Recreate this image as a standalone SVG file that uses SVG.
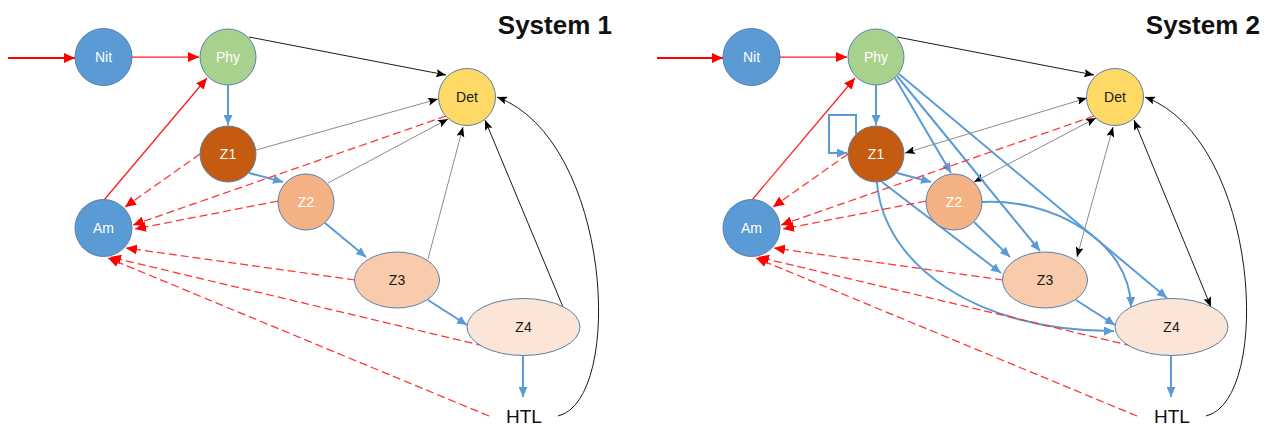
<svg xmlns="http://www.w3.org/2000/svg" width="1271" height="425" viewBox="0 0 1271 425">
  <style>
    .node { stroke: #5b7fa6; stroke-width: 1; }
    .lbl { font-family: "Liberation Sans", Arial, sans-serif; font-size: 14px; text-anchor: middle; }
    .lt { fill: #ffffff; }
    .dk { fill: #1a1a1a; }
    .title { font-family: "Liberation Sans", Arial, sans-serif; font-size: 26px; font-weight: bold; text-anchor: end; fill: #111111; }
    .htl { font-family: "Liberation Sans", Arial, sans-serif; font-size: 19px; text-anchor: middle; fill: #111111; }
    .red { fill: none; stroke: #ff1a1a; stroke-width: 1.25; marker-end: url(#ah-red); }
    .red-in { fill: none; stroke: #ff0000; stroke-width: 2; marker-end: url(#ah-red); }
    .red-dash { fill: none; stroke: #ff3333; stroke-width: 1.25; stroke-dasharray: 8 4; marker-end: url(#ah-red); }
    .blue { fill: none; stroke: #5b9bd5; stroke-width: 2; marker-end: url(#ah-blue); }
    .black { fill: none; stroke: #1a1a1a; stroke-width: 1; marker-end: url(#ah-black); }
    .gray { fill: none; stroke: #8c8c8c; stroke-width: 1; marker-end: url(#ah-black); }
    .both { marker-start: url(#ah-black-s); }
  </style>
  <defs>
    <marker id="ah-red" viewBox="0 0 11 10" refX="11" refY="5" markerWidth="11" markerHeight="10" markerUnits="userSpaceOnUse" orient="auto">
      <path d="M0,0 L11,5 L0,10 z" fill="#ff0000"/>
    </marker>
    <marker id="ah-blue" viewBox="0 0 10 9" refX="10" refY="4.5" markerWidth="10" markerHeight="9" markerUnits="userSpaceOnUse" orient="auto">
      <path d="M0,0 L10,4.5 L0,9 z" fill="#5b9bd5"/>
    </marker>
    <marker id="ah-black" viewBox="0 0 10 8" refX="10" refY="4" markerWidth="10" markerHeight="8" markerUnits="userSpaceOnUse" orient="auto">
      <path d="M0,0 L10,4 L0,8 L2,4 z" fill="#000000"/>
    </marker>
    <marker id="ah-black-s" viewBox="0 0 10 8" refX="10" refY="4" markerWidth="10" markerHeight="8" markerUnits="userSpaceOnUse" orient="auto-start-reverse">
      <path d="M0,0 L10,4 L0,8 L2,4 z" fill="#000000"/>
    </marker>
  </defs>
  <rect width="1271" height="425" fill="#ffffff"/>

  <!-- ===== System 1 ===== -->
  <g id="system1">
    <text class="title" x="612" y="34">System 1</text>
    <g id="s1-connectors">
      <path class="red-in" d="M8,58 H75"/>
      <path class="red" d="M132,57 L199,57"/>
      <path class="red" d="M104,200 L207,78"/>
      <path class="black" d="M249,37 L446,75"/>
      <path class="blue" d="M228,85 V125"/>
      <path class="gray" d="M256,150 L438,99"/>
      <path class="gray" d="M328,183 L448,119"/>
      <path class="gray" d="M428,259 L463,127"/>
      <path class="black" d="M563,307 L485,120"/>
      <path class="black" d="M558,416 C625,400 612,140 497,97"/>
      <path class="blue" d="M249,173 L283,182"/>
      <path class="blue" d="M325,223 L366,257"/>
      <path class="blue" d="M428,300 L467,325"/>
      <path class="blue" d="M523,356 V397"/>
      <path class="red-dash" d="M200,154 L125,207"/>
      <path class="red-dash" d="M446,116 L133,225"/>
      <path class="red-dash" d="M278,201 L135,229"/>
      <path class="red-dash" d="M355,280 L126,248"/>
      <path class="red-dash" d="M484,346 L110,257"/>
      <path class="red-dash" d="M489,416 L108,258"/>
    </g>
    <g id="s1-nit"><circle class="node" cx="103.5" cy="57" r="28.5" fill="#5b9bd5"/><text class="lbl lt" x="103.5" y="62">Nit</text></g>
    <g id="s1-phy"><circle class="node" cx="228" cy="57" r="28" fill="#a9d18e"/><text class="lbl lt" x="228" y="62">Phy</text></g>
    <g id="s1-det"><circle class="node" cx="467" cy="97" r="28.5" fill="#ffd966"/><text class="lbl dk" x="467" y="102">Det</text></g>
    <g id="s1-z1"><circle class="node" cx="228" cy="154" r="28" fill="#c55a11"/><text class="lbl lt" x="228" y="159">Z1</text></g>
    <g id="s1-z2"><circle class="node" cx="306" cy="202" r="28" fill="#f4b183"/><text class="lbl lt" x="306" y="207">Z2</text></g>
    <g id="s1-am"><circle class="node" cx="103.5" cy="228" r="28.5" fill="#5b9bd5"/><text class="lbl lt" x="103.5" y="233">Am</text></g>
    <g id="s1-z3"><ellipse class="node" cx="397" cy="280" rx="42.5" ry="28" fill="#f8cbad"/><text class="lbl dk" x="397" y="285">Z3</text></g>
    <g id="s1-z4"><ellipse class="node" cx="523.5" cy="327" rx="56.5" ry="28.5" fill="#fbe5d6"/><text class="lbl dk" x="523.5" y="332">Z4</text></g>
    <g id="s1-htl"><text class="htl" x="524" y="423">HTL</text></g>
  </g>

  <!-- ===== System 2 (same layout, shifted right) ===== -->
  <g id="system2" transform="translate(648,0)">
    <text class="title" x="612" y="34">System 2</text>
    <g id="s2-connectors">
      <path class="red-in" d="M9,58 H75"/>
      <path class="red" d="M132,57 L199,57"/>
      <path class="red" d="M104,200 L207,78"/>
      <path class="black" d="M249,37 L446,75"/>
      <path class="blue" d="M228,85 V125"/>
      <path class="gray both" d="M257,153 L439,98"/>
      <path class="gray both" d="M326,182 L448,118"/>
      <path class="gray both" d="M429,257 L465,127"/>
      <path class="black both" d="M563,307 L486,120"/>
      <path class="black" d="M558,416 C625,400 612,140 497,97"/>
      <path class="blue" d="M208,134 V115 H181 V153 H199"/>
      <path class="blue" d="M247,78 L303,173"/>
      <path class="blue" d="M249,76 L392,251"/>
      <path class="blue" d="M251,74 L519,298"/>
      <path class="blue" d="M249,173 L283,182"/>
      <path class="blue" d="M326,222 L362,257"/>
      <path class="blue" d="M234,182 L353,273"/>
      <path class="blue" d="M229,182 C235,265 330,332 466,331"/>
      <path class="blue" d="M334,202 C402,198 482,240 483,307"/>
      <path class="blue" d="M428,300 L467,325"/>
      <path class="blue" d="M523,356 V397"/>
      <path class="red-dash" d="M200,154 L125,207"/>
      <path class="red-dash" d="M446,116 L133,225"/>
      <path class="red-dash" d="M278,201 L135,229"/>
      <path class="red-dash" d="M355,280 L126,248"/>
      <path class="red-dash" d="M484,346 L110,257"/>
      <path class="red-dash" d="M489,416 L108,258"/>
    </g>
    <g id="s2-nit"><circle class="node" cx="103.5" cy="57" r="28.5" fill="#5b9bd5"/><text class="lbl lt" x="103.5" y="62">Nit</text></g>
    <g id="s2-phy"><circle class="node" cx="228" cy="57" r="28" fill="#a9d18e"/><text class="lbl lt" x="228" y="62">Phy</text></g>
    <g id="s2-det"><circle class="node" cx="467" cy="97" r="28.5" fill="#ffd966"/><text class="lbl dk" x="467" y="102">Det</text></g>
    <g id="s2-z1"><circle class="node" cx="228" cy="154" r="28" fill="#c55a11"/><text class="lbl lt" x="228" y="159">Z1</text></g>
    <g id="s2-z2"><circle class="node" cx="306" cy="202" r="28" fill="#f4b183"/><text class="lbl lt" x="306" y="207">Z2</text></g>
    <g id="s2-am"><circle class="node" cx="103.5" cy="228" r="28.5" fill="#5b9bd5"/><text class="lbl lt" x="103.5" y="233">Am</text></g>
    <g id="s2-z3"><ellipse class="node" cx="397" cy="280" rx="42.5" ry="28" fill="#f8cbad"/><text class="lbl dk" x="397" y="285">Z3</text></g>
    <g id="s2-z4"><ellipse class="node" cx="523.5" cy="327" rx="56.5" ry="28.5" fill="#fbe5d6"/><text class="lbl dk" x="523.5" y="332">Z4</text></g>
    <g id="s2-htl"><text class="htl" x="524" y="423">HTL</text></g>
  </g>
</svg>
